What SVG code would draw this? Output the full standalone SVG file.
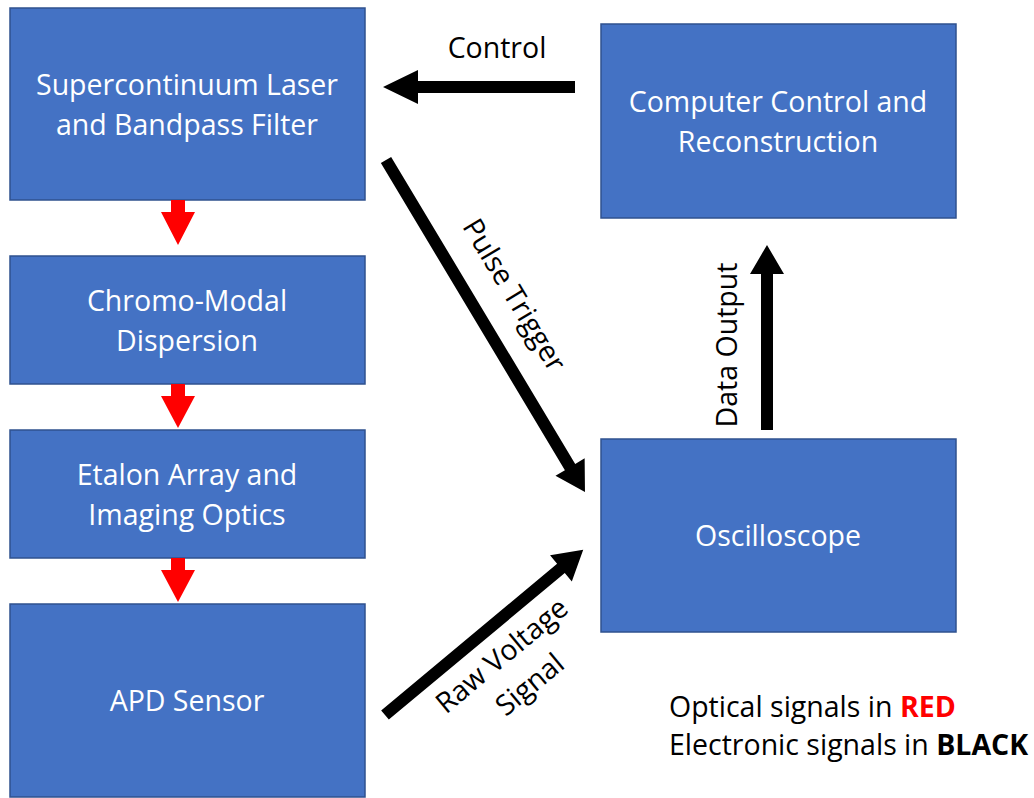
<svg xmlns="http://www.w3.org/2000/svg" width="1034" height="798" viewBox="0 0 1034 798">
<style>
.box{fill:#4472C4;stroke:#2F528F;stroke-width:1.5}
.bt{fill:#fff;font-family:"Open Sans","Liberation Sans",sans-serif;font-size:28.5px;text-anchor:middle}
.lb{fill:#000;font-family:"Open Sans","Liberation Sans",sans-serif;font-size:28.5px;text-anchor:middle}
.lg{fill:#000;font-family:"Open Sans","Liberation Sans",sans-serif;font-size:28.5px}
.red{fill:#FF0000}
.blk{fill:#000}
</style>
<rect width="1034" height="798" fill="#fff"/>
<g id="laser"><rect class="box" x="10" y="8" width="355" height="192"/><text class="bt" x="187" y="95">Supercontinuum Laser</text><text class="bt" x="187" y="135">and Bandpass Filter</text></g>
<g id="chromo"><rect class="box" x="10" y="256" width="355" height="128"/><text class="bt" x="187" y="311">Chromo-Modal</text><text class="bt" x="187" y="351">Dispersion</text></g>
<g id="etalon"><rect class="box" x="10" y="430" width="355" height="128"/><text class="bt" x="187" y="485">Etalon Array and</text><text class="bt" x="187" y="525">Imaging Optics</text></g>
<g id="apd"><rect class="box" x="10" y="604" width="355" height="193"/><text class="bt" x="187" y="711">APD Sensor</text></g>
<g id="computer"><rect class="box" x="601" y="24" width="355" height="194"/><text class="bt" x="778" y="112">Computer Control and</text><text class="bt" x="778" y="152">Reconstruction</text></g>
<g id="oscilloscope"><rect class="box" x="601" y="439" width="355" height="193"/><text class="bt" x="778" y="546">Oscilloscope</text></g>
<g id="connectors">
<polygon class="red" points="171,200 185,200 185,212 195,212 178,245 161,212 171,212"/>
<polygon class="red" points="171,384 185,384 185,396 195,396 178,428 161,396 171,396"/>
<polygon class="red" points="171,558 185,558 185,570 195,570 178,602 161,570 171,570"/>
<polygon class="blk" points="575,81 418,81 418,70 383,87 418,104 418,93 575,93"/>
<polygon class="blk" points="761,430 761,274 750,274 767,245 784,274 773,274 773,430"/>
<g transform="translate(386,160) rotate(59.06)">
<polygon class="blk" points="0,-6 358,-6 358,-17 387,0 358,17 358,6 0,6"/>
</g>
<g transform="translate(385,715) rotate(-39.8)">
<polygon class="blk" points="0,-6 229,-6 229,-17 258,0 229,17 229,6 0,6"/>
</g>
<text class="lb" x="497" y="58">Control</text>
<text class="lb" transform="translate(506,300) rotate(59.06)">Pulse Trigger</text>
<text class="lb" transform="translate(737,345) rotate(-90)">Data Output</text>
<text class="lb" transform="translate(508,663) rotate(-39.8)">Raw Voltage</text>
<text class="lb" transform="translate(536,692) rotate(-39.8)">Signal</text>
</g>
<g id="legend">
<text class="lg" x="669" y="717">Optical signals in <tspan fill="#FF0000" font-weight="bold">RED</tspan></text>
<text class="lg" x="669" y="755">Electronic signals in <tspan font-weight="bold">BLACK</tspan></text>
</g>
</svg>
